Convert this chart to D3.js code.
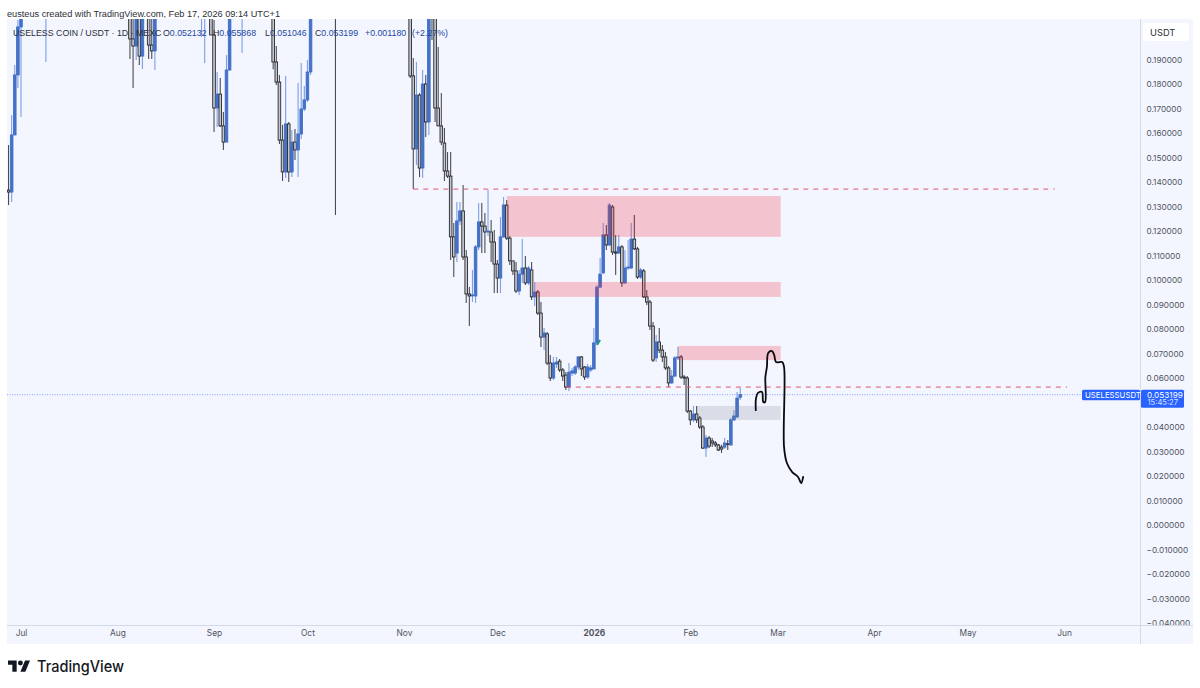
<!DOCTYPE html>
<html>
<head>
<meta charset="utf-8">
<script src="https://cdn.jsdelivr.net/npm/d3@7/dist/d3.min.js"></script>
<style>
html,body{margin:0;padding:0;background:#fff}
svg{display:block}
text{font-family:Inter,"Liberation Sans",sans-serif}
</style>
</head>
<body>
<svg id="chart" width="1200" height="688"></svg>
<script>
// USELESS COIN / USDT daily candles, first session 27 Jun 2025
const firstSession = Date.UTC(2025, 5, 27);
const opens = [
.1367,.1359,.1592,.1837,.2033,.225,.251,.268,.289,.312,
.335,.322,.304,.356,.348,.372,.391,.365,.342,.377,
.404,.421,.396,.378,.352,.368,.344,.317,.331,.352,
.326,.301,.287,.309,.338,.322,.296,.276,.258,.241,
.1984,.1955,.222,.1914,.226,.218,.1959,.1935,.236,.252,
.268,.259,.281,.296,.312,.301,.287,.304,.322,.309,
.291,.276,.263,.274,.289,.24,.2,.1702,.1759,.1629,
.1563,.1857,.232,.246,.259,.271,.284,.262,.281,.298,
.312,.289,.272,.256,.271,.248,.189,.1808,.1571,.1441,
.1637,.1441,.1563,.1531,.1596,.1698,.1735,.1849,.223,.241,
.256,.272,.259,.277,.293,.281,.262,.276,.291,.305,
.318,.302,.289,.311,.327,.341,.325,.309,.291,.276,
.298,.314,.331,.347,.329,.311,.296,.281,.263,.246,
.1833,.1535,.1755,.1457,.18,.1645,.228,.211,.1702,.1629,
.1559,.1445,.1424,.1176,.111,.1241,.1282,.1094,.0943,.0935,
.0935,.1135,.1237,.122,.1196,.1196,.1155,.1065,.1008,.1176,
.1306,.1171,.1078,.1037,.0955,.1024,.1049,.0988,.1041,.0931,
.0951,.0865,.0767,.078,.0661,.06,.0657,.0669,.0633,.0612,
.0563,.062,.062,.0645,.0686,.0645,.0604,.0633,.0637,.0743,
.0971,.1029,.1184,.1143,.1298,.1114,.111,.1135,.0988,.1049,
.1049,.1167,.1127,.1012,.1037,.0931,.091,.0812,.0682,.0747,
.0714,.0686,.0641,.058,.0608,.0682,.0686,.0604,.06,.0465,
.0429,.0453,.0437,.04,.0314,.0355,.0343,.0335,.0327,.0318,
.0318,.0331,.0327,.0429,.0441,.052132];
const closes = [
.1359,.1592,.1837,.2033,.225,.251,.268,.289,.312,.335,
.322,.304,.356,.348,.372,.391,.365,.342,.377,.404,
.421,.396,.378,.352,.368,.344,.317,.331,.352,.326,
.301,.287,.309,.338,.322,.296,.276,.258,.241,.1984,
.1955,.222,.1914,.226,.218,.1959,.1935,.236,.252,.268,
.259,.281,.296,.312,.301,.287,.304,.322,.309,.291,
.276,.263,.274,.289,.24,.2,.1702,.1759,.1629,.1563,
.1857,.232,.246,.259,.271,.284,.262,.281,.298,.312,
.289,.272,.256,.271,.248,.189,.1808,.1571,.1441,.1637,
.1441,.1563,.1531,.1596,.1698,.1735,.1849,.223,.241,.256,
.272,.259,.277,.293,.281,.262,.276,.291,.305,.318,
.302,.289,.311,.327,.341,.325,.309,.291,.276,.298,
.314,.331,.347,.329,.311,.296,.281,.263,.246,.1833,
.1535,.1755,.1457,.18,.1645,.228,.211,.1702,.1629,.1563,
.1445,.1424,.1176,.1094,.1241,.1282,.1094,.0943,.0935,.0939,
.1135,.1237,.122,.1196,.12,.1155,.1065,.1008,.1176,.1306,
.1171,.1078,.1037,.0955,.1024,.1049,.0988,.1049,.0931,.0951,
.0865,.0767,.0784,.0661,.06,.0661,.0665,.0633,.0608,.0563,
.0624,.0629,.0645,.0686,.0637,.0604,.0645,.0641,.0743,.0971,
.1024,.1184,.1143,.1306,.1114,.111,.1135,.0988,.1049,.1053,
.1167,.1127,.1012,.1041,.0931,.091,.0812,.0673,.0747,.0714,
.0686,.0641,.058,.0608,.0682,.0686,.0604,.06,.0465,.0429,
.0453,.0429,.04,.0314,.0355,.0322,.0335,.0327,.0306,.031,
.0335,.0329,.0429,.0445,.0518,.053199];
const highs = [
.1551,.1673,.1878,.2061,.24,.262,.28,.298,.33,.345,
.36,.35,.37,.362,.386,.404,.403,.378,.39,.418,
.436,.434,.41,.392,.382,.38,.358,.345,.366,.364,
.338,.314,.322,.352,.351,.336,.308,.29,.272,.252,
.21,.232,.235,.24,.245,.23,.215,.25,.266,.282,
.28,.295,.31,.326,.325,.314,.318,.336,.335,.322,
.304,.288,.285,.30,.30,.25,.2061,.1849,.1824,.1686,
.1918,.245,.258,.272,.284,.297,.296,.293,.311,.325,
.324,.302,.284,.284,.283,.26,.1955,.1837,.1633,.1833,
.1645,.1612,.1616,.1804,.1886,.1792,.1898,.235,.253,.268,
.286,.284,.289,.306,.305,.30,.288,.304,.318,.331,
.33,.314,.324,.34,.354,.353,.337,.322,.303,.31,
.326,.344,.36,.358,.342,.323,.308,.293,.275,.255,
.1906,.189,.1763,.1857,.1837,.24,.24,.225,.1951,.1763,
.162,.1522,.1522,.1233,.1318,.1318,.1388,.1122,.0971,.1041,
.1143,.1314,.1314,.1273,.1367,.1245,.1204,.1082,.1257,.1339,
.1327,.118,.1078,.1073,.1041,.1167,.1098,.1057,.1073,.0992,
.0959,.091,.0804,.0788,.0694,.0686,.0686,.0678,.0641,.0624,
.0661,.0641,.0653,.069,.069,.0649,.0657,.0653,.0804,.098,
.109,.1233,.1224,.1314,.1306,.1184,.1184,.1143,.1122,.1163,
.1233,.1265,.1135,.1049,.1045,.0959,.0918,.0829,.0776,.0804,
.0735,.0706,.0649,.0633,.069,.0727,.0694,.0612,.0608,.0469,
.0486,.0486,.0445,.0408,.0367,.0363,.0355,.0343,.0331,.0327,
.0355,.0347,.0437,.0469,.0543,.055868];
const lows = [
.1306,.1318,.1592,.1784,.1665,.212,.24,.255,.275,.298,
.31,.29,.189,.335,.338,.36,.35,.33,.33,.365,
.39,.384,.365,.34,.342,.33,.304,.305,.32,.314,
.288,.274,.275,.296,.31,.283,.264,.245,.228,.1902,
.1784,.1898,.1878,.1861,.21,.1902,.1902,.1857,.224,.24,
.248,.247,.27,.284,.29,.274,.275,.292,.296,.279,
.264,.25,.1992,.1886,.22,.2,.1604,.1624,.1624,.1531,
.1563,.1857,.22,.235,.25,.1927,.25,.25,.27,.288,
.278,.26,.243,.245,.236,.186,.1796,.1555,.1404,.1416,
.14,.142,.149,.142,.1576,.169,.1727,.1837,.212,.23,
.245,.248,.25,.265,.27,.1265,.252,.264,.278,.292,
.29,.277,.279,.3,.316,.312,.296,.279,.264,.265,
.286,.302,.32,.317,.298,.284,.269,.252,.235,.1825,
.1371,.1469,.142,.1416,.1584,.1592,.198,.1645,.1629,.1551,
.1404,.1416,.1082,.1012,.1073,.1224,.1082,.0906,.0812,.091,
.0906,.1122,.111,.111,.118,.1073,.0947,.0947,.0947,.1171,
.1163,.1061,.102,.0947,.0939,.0988,.098,.098,.0918,.0894,
.0857,.0727,.0714,.0653,.0588,.0592,.0641,.0624,.0588,.0551,
.0547,.0608,.0612,.0633,.0608,.0592,.0596,.0624,.0637,.0735,
.0967,.1024,.1122,.1139,.1102,.102,.1106,.0971,.0984,.1041,
.1045,.1122,.1004,.1004,.0927,.0898,.0796,.0665,.0665,.0702,
.0665,.0633,.0563,.0576,.0604,.0673,.0596,.0571,.0457,.0408,
.042,.0416,.0392,.031,.0278,.0314,.0318,.0318,.0302,.0294,
.031,.0306,.0322,.0424,.0437,.051046];

// Supply and demand boxes: [from, to, upper price, lower price]
const pinkZones = [
  ["2025-12-04","2026-03-02",.1343,.1176],
  ["2025-12-13","2026-03-02",.0992,.0931],
  ["2026-01-28","2026-03-02",.0731,.0673]
];
const greyZones = [["2026-02-03","2026-03-02",.0486,.0429]];
// Horizontal levels: [from, to, price]
const levels = [
  ["2025-11-04","2026-05-29",.1371],
  ["2025-12-23","2026-06-02",.0563]
];
// Hand-drawn projection: days after 1 Jul 2025 and price
const sketchDays = [236,236.1,236.7,238,238.4,239,239.1,239.6,240,241.2,241.9,242.5,244.5,245.1,245.1,246,247.7,249.6,250.6,251.2];
const sketchPrices = [.0469,.0518,.0539,.0543,.0502,.0502,.0604,.0645,.0702,.071,.0694,.0665,.0665,.0645,.0318,.0253,.0216,.0196,.0171,.0196];

const priceTicks = [.19,.18,.17,.16,.15,.14,.13,.12,.11,.10,.09,.08,.07,.06,.04,.03,.02,.01,0,-.01,-.02,-.03,-.04];
const monthTicks = ["2025-07-01","2025-08-01","2025-09-01","2025-10-01","2025-11-01","2025-12-01","2026-01-01","2026-02-01","2026-03-01","2026-04-01","2026-05-01","2026-06-01"];
const monthNames = ["Jul","Aug","Sep","Oct","Nov","Dec","2026","Feb","Mar","Apr","May","Jun"];

const lastPrice = closes[closes.length-1];
const day = s => new Date(s+"T00:00:00Z");

const x = d3.scaleUtc().domain([day("2025-07-01"),day("2026-06-01")]).range([21,1064]);
const y = d3.scaleLinear().domain([0,.19]).range([525,59.5]);

const svg = d3.select("#chart");
const pane = {l:7,r:1140,t:19,b:625,bottom:644,axisR:1193};
const ui = "\"Liberation Sans\",Arial,sans-serif";

svg.append("rect").attr("x",pane.l).attr("y",pane.t).attr("width",pane.axisR-pane.l).attr("height",pane.bottom-pane.t).attr("fill","#f3f6ff");
svg.append("defs").append("clipPath").attr("id","pane").append("rect")
  .attr("x",pane.l).attr("y",pane.t).attr("width",pane.r-pane.l).attr("height",pane.b-pane.t);

const plot = svg.append("g").attr("clip-path","url(#pane)");

// Last price line behind the candles
plot.append("line").attr("x1",pane.l).attr("x2",pane.r).attr("y1",y(lastPrice)).attr("y2",y(lastPrice))
  .attr("stroke","#2962ff").attr("stroke-width",1).attr("stroke-dasharray","1 1.5").attr("opacity",.55);

const candles = d3.range(closes.length).map(i=>({
  t:d3.utcDay.offset(new Date(firstSession),i),o:opens[i],h:highs[i],l:lows[i],c:closes[i]
}));
const upColor="#4472c9";
const g = plot.append("g");
g.selectAll("line.wick").data(candles).join("line").attr("class","wick")
  .attr("x1",d=>x(d.t)).attr("x2",d=>x(d.t)).attr("y1",d=>y(d.h)).attr("y2",d=>y(d.l))
  .attr("stroke",d=>d.c>=d.o?"#7d9de4":"#4a4c52").attr("stroke-width",1.1);
g.selectAll("rect.body").data(candles).join("rect").attr("class","body")
  .attr("x",d=>x(d.t)-1.3).attr("width",2.6)
  .attr("y",d=>y(Math.max(d.o,d.c))).attr("height",d=>Math.max(.6,Math.abs(y(d.o)-y(d.c))))
  .attr("fill",d=>d.c>=d.o?upColor:"#c4c6cd")
  .attr("stroke",d=>d.c>=d.o?"#3f6cc4":"#1d1e22").attr("stroke-width",.85);

// Small marker beside the January breakout candle
plot.append("line")
  .attr("x1",x(day("2026-01-03"))).attr("x2",x(day("2026-01-02")))
  .attr("y1",y(.0755)).attr("y2",y(.0735))
  .attr("stroke","#1c9a80").attr("stroke-width",2);

// Zones sit above the candles and tint them
const zoneRect=(data,fill)=>plot.append("g").selectAll("rect").data(data).join("rect")
  .attr("x",d=>x(day(d[0]))).attr("width",d=>x(day(d[1]))-x(day(d[0])))
  .attr("y",d=>y(d[2])).attr("height",d=>y(d[3])-y(d[2])).attr("fill",fill);
zoneRect(pinkZones,"rgba(243,37,54,.24)");
zoneRect(greyZones,"rgba(120,123,134,.2)");

plot.append("g").selectAll("line").data(levels).join("line")
  .attr("x1",d=>x(day(d[0]))).attr("x2",d=>x(day(d[1]))).attr("y1",d=>y(d[2])).attr("y2",d=>y(d[2]))
  .attr("stroke","#e0546a").attr("stroke-width",1).attr("stroke-dasharray","5 5");

// Freehand projection
const sketchLine = d3.line()
  .x(d=>x(d3.utcHour.offset(day("2025-07-01"),Math.round(d*24))))
  .y((d,i)=>y(sketchPrices[i]))
  .curve(d3.curveCatmullRom.alpha(.5));
plot.append("path").attr("d",sketchLine(sketchDays)).attr("fill","none")
  .attr("stroke","#0b0b0d").attr("stroke-width",1.8).attr("stroke-linecap","round");

// Price axis
const priceAxis = d3.axisRight(y).tickValues(priceTicks).tickSize(0).tickPadding(0).tickFormat(d=>d3.format(".6f")(d));
const py = svg.append("g").attr("transform",`translate(${pane.r+6.5},0)`).call(priceAxis);
py.select(".domain").remove();
py.selectAll("text").attr("fill","#50535e").attr("font-size",8.2).style("font-family","Inter");

svg.append("line").attr("x1",pane.r+.5).attr("x2",pane.r+.5).attr("y1",pane.t).attr("y2",pane.bottom).attr("stroke","#d4d9e8");
svg.append("line").attr("x1",pane.l).attr("x2",pane.axisR).attr("y1",pane.b+.5).attr("y2",pane.b+.5).attr("stroke","#d4d9e8");

// Currency button at the head of the price axis
svg.append("rect").attr("x",1143).attr("y",23).attr("width",46).attr("height",18).attr("rx",3).attr("fill","#fff");
svg.append("text").attr("x",1150).attr("y",36).attr("font-size",9.3).attr("fill","#2a2e39").text("USDT");

// Time axis
const timeAxis = d3.axisBottom(x).tickValues(monthTicks.map(day)).tickSize(0).tickPadding(0).tickFormat((d,i)=>monthNames[i]);
const tx = svg.append("g").attr("transform",`translate(0,${pane.b+5.5})`).call(timeAxis);
tx.select(".domain").remove();
tx.selectAll("text").attr("fill","#50535e").attr("font-size",8.4).style("font-family","Inter")
  .attr("font-weight",(d,i)=>monthNames[i]==="2026"?700:400);

// Last price tags
const tagTop=y(lastPrice)-5;
svg.append("rect").attr("x",1082).attr("y",tagTop).attr("width",58).attr("height",10.5).attr("rx",1.5).attr("fill","#2962ff");
svg.append("text").attr("x",1085).attr("y",tagTop+8.2).attr("font-size",7.8).attr("fill","#fff").text("USELESSUSDT");
svg.append("rect").attr("x",1141).attr("y",tagTop).attr("width",43).attr("height",18).attr("rx",1.5).attr("fill","#2962ff");
svg.append("text").attr("x",1147).attr("y",tagTop+8.2).attr("font-size",8.2).attr("fill","#fff").text(d3.format(".6f")(lastPrice));
svg.append("text").attr("x",1147.5).attr("y",tagTop+15.8).attr("font-size",7.6).attr("fill","#d5e0ff").text("15:45:27");

// Symbol legend
const legendText=(lx,parts)=>{
  const t=svg.append("text").attr("x",lx).attr("y",36).attr("font-size",8.8).style("font-family",ui);
  parts.forEach(([s,c])=>t.append("tspan").attr("fill",c).text(s));
};
const ink="#2a2e39", value="#23479e";
legendText(13,[["USELESS COIN / USDT · 1D · MEXC",ink]]);
legendText(163,[["O",ink],["0.052132",value]]);
legendText(213,[["H",ink],["0.055868",value]]);
legendText(265,[["L",ink],["0.051046",value]]);
legendText(315,[["C",ink],["0.053199",value]]);
legendText(365,[["+0.001180",value]]);
legendText(412,[["(+2.27%)",value]]);

// Header credit
svg.append("text").attr("x",7).attr("y",16.5).attr("font-size",9.6).attr("fill","#2a2e39")
  .attr("textLength",273).attr("lengthAdjust","spacingAndGlyphs").style("font-family",ui)
  .text("eusteus created with TradingView.com, Feb 17, 2026 09:14 UTC+1");

// Brand mark
const brand=svg.append("g").attr("transform","translate(8,658) scale(.62)").attr("fill","#131722");
brand.append("path").attr("d","M14 22H7V11H0V4h14v18zM28 22h-8l7.5-18h8L28 22z");
brand.append("circle").attr("cx",20).attr("cy",8).attr("r",4);
svg.append("text").attr("x",37).attr("y",672).attr("font-size",15.5).attr("font-weight",500).attr("fill","#131722")
  .attr("textLength",87).attr("lengthAdjust","spacingAndGlyphs").text("TradingView");
</script>
</body>
</html>
